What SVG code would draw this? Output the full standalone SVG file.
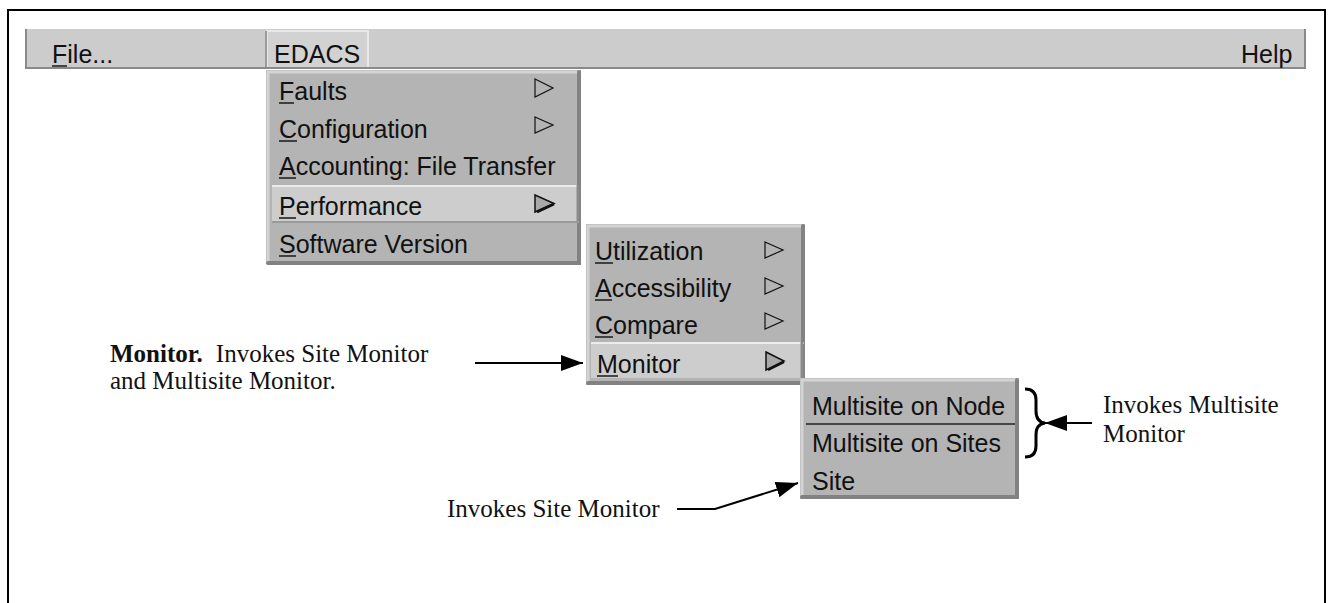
<svg xmlns="http://www.w3.org/2000/svg" width="1332" height="603" viewBox="0 0 1332 603">
<style>
.ui{font-family:"Liberation Sans",Arial,sans-serif;font-size:25px;fill:#111}
.note{font-family:"Liberation Serif","Times New Roman",serif;font-size:25px;fill:#111}
.b{font-weight:bold}
.ul{stroke:#222;stroke-width:1.6}
.menu{fill:#b4b4b4}
.lt{stroke:#d4d4d4;stroke-width:3;fill:none}
.dk{stroke:#828282;stroke-width:4;fill:none;stroke-linecap:round}
.tri{fill:none;stroke:#111;stroke-width:1.2}
.tri2{fill:#a8a8a8;stroke:#111;stroke-width:1.5}
.hl{fill:#cdcdcd}
.conn{stroke:#000;stroke-width:2;fill:none}
</style>
<defs>
<marker id="ah" viewBox="0 0 22 16" refX="22" refY="8" markerWidth="22" markerHeight="16" markerUnits="userSpaceOnUse" orient="auto">
<path d="M0,0 L22,8 L0,16 z" fill="#000"/>
</marker>
</defs>
<rect width="1332" height="603" fill="#fff"/>
<g id="frame">
<path d="M8,610 L8,10 L1325,10 L1325,610" fill="none" stroke="#000" stroke-width="2"/>
</g>
<g id="menubar">
<rect x="25" y="29" width="1281" height="40" fill="#cccccc"/>
<line x1="26" y1="29" x2="26" y2="68" stroke="#8a8a8a" stroke-width="2"/>
<line x1="25" y1="68" x2="1306" y2="68" stroke="#8a8a8a" stroke-width="2"/>
<line x1="1305" y1="29" x2="1305" y2="69" stroke="#8a8a8a" stroke-width="2"/>
<text class="ui" x="52" y="63">File...</text>
<line class="ul" x1="52" y1="66" x2="67" y2="66"/>
<text class="ui" x="1241" y="63">Help</text>
</g>
<g id="edacs">
<rect x="266" y="30" width="102" height="37" fill="#d2d2d2"/>
<path d="M267,67 L267,31 L368,31 L368,67" fill="none" stroke="#e8e8e8" stroke-width="2"/>
<line x1="266" y1="31" x2="266" y2="67" stroke="#9a9a9a" stroke-width="2"/>
<text class="ui" x="274" y="63">EDACS</text>
</g>
<g id="menu-edacs">
<rect class="menu" x="266" y="70" width="315" height="194"/>
<path class="lt" d="M268,263 L268,72 L580,72"/>
<path class="dk" d="M268,263 L579,263 L579,72"/>
<text class="ui" x="279" y="100">Faults</text>
<line class="ul" x1="279" y1="103" x2="294" y2="103"/>
<polygon class="tri" points="535,79 553,88 535,97"/>
<text class="ui" x="279" y="138">Configuration</text>
<line class="ul" x1="279" y1="141" x2="297" y2="141"/>
<polygon class="tri" points="535,117 553,125 535,133"/>
<text class="ui" x="279" y="175">Accounting: File Transfer</text>
<line class="ul" x1="279" y1="178" x2="296" y2="178"/>
<rect class="hl" x="272" y="185" width="307" height="38"/>
<line x1="272" y1="186" x2="579" y2="186" stroke="#ececec" stroke-width="2"/>
<line x1="578" y1="185" x2="578" y2="223" stroke="#8a8a8a" stroke-width="3"/>
<line x1="272" y1="222" x2="579" y2="222" stroke="#9a9a9a" stroke-width="2"/>
<text class="ui" x="279" y="215">Performance</text>
<line class="ul" x1="279" y1="218" x2="296" y2="218"/>
<polygon class="tri2" points="535,195 554,203.5 535,212"/>
<line x1="537" y1="212" x2="554" y2="204" stroke="#111" stroke-width="2.5"/>
<text class="ui" x="279" y="253">Software Version</text>
<line class="ul" x1="279" y1="256" x2="296" y2="256"/>
</g>
<g id="menu-performance">
<rect class="menu" x="586" y="224" width="219" height="161"/>
<path class="lt" d="M588,384 L588,226 L804,226"/>
<path class="dk" d="M588,383 L803,383 L803,226"/>
<text class="ui" x="595" y="260">Utilization</text>
<line class="ul" x1="595" y1="263" x2="613" y2="263"/>
<polygon class="tri" points="765,242 783,250 765,258"/>
<text class="ui" x="595" y="297">Accessibility</text>
<line class="ul" x1="595" y1="300" x2="612" y2="300"/>
<polygon class="tri" points="765,278 783,286 765,294"/>
<text class="ui" x="595" y="334">Compare</text>
<line class="ul" x1="595" y1="337" x2="613" y2="337"/>
<polygon class="tri" points="765,313 783,321 765,329"/>
<rect class="hl" x="591" y="342" width="211" height="36"/>
<line x1="591" y1="343" x2="804" y2="343" stroke="#ececec" stroke-width="2"/>
<line x1="802" y1="342" x2="802" y2="378" stroke="#8a8a8a" stroke-width="3"/>
<text class="ui" x="597" y="373">Monitor</text>
<line class="ul" x1="597" y1="376" x2="618" y2="376"/>
<polygon class="tri2" points="766,352 784,361 766,370"/>
<line x1="768" y1="370" x2="784" y2="362" stroke="#111" stroke-width="2.5"/>
</g>
<g id="menu-monitor">
<rect class="menu" x="800" y="378" width="219" height="121"/>
<path class="lt" d="M802,498 L802,380 L1018,380"/>
<path class="dk" d="M802,497 L1017,497 L1017,380"/>
<text class="ui" x="812" y="415">Multisite on Node</text>
<line x1="806" y1="424" x2="1015" y2="424" stroke="#222" stroke-width="1.5"/>
<text class="ui" x="812" y="452">Multisite on Sites</text>
<text class="ui" x="812" y="490">Site</text>
</g>
<g id="annotations">
<text class="note" x="110" y="362"><tspan class="b">Monitor.</tspan><tspan dx="13">Invokes Site Monitor</tspan></text>
<text class="note" x="110" y="389">and Multisite Monitor.</text>
<text class="note" x="447" y="517">Invokes Site Monitor</text>
<text class="note" x="1103" y="413">Invokes Multisite</text>
<text class="note" x="1103" y="442">Monitor</text>
<path d="M1025,389 Q1036,389 1036,400 L1036,411 Q1036,422 1045,423 Q1036,424 1036,435 L1036,446 Q1036,457 1025,457" fill="none" stroke="#000" stroke-width="3"/>
</g>
<g id="connectors">
<line class="conn" x1="475" y1="363" x2="583" y2="363" marker-end="url(#ah)"/>
<polyline class="conn" points="677,509 715,509 798,483" marker-end="url(#ah)"/>
<line class="conn" x1="1092" y1="423" x2="1045" y2="423" marker-end="url(#ah)"/>
</g>
</svg>
